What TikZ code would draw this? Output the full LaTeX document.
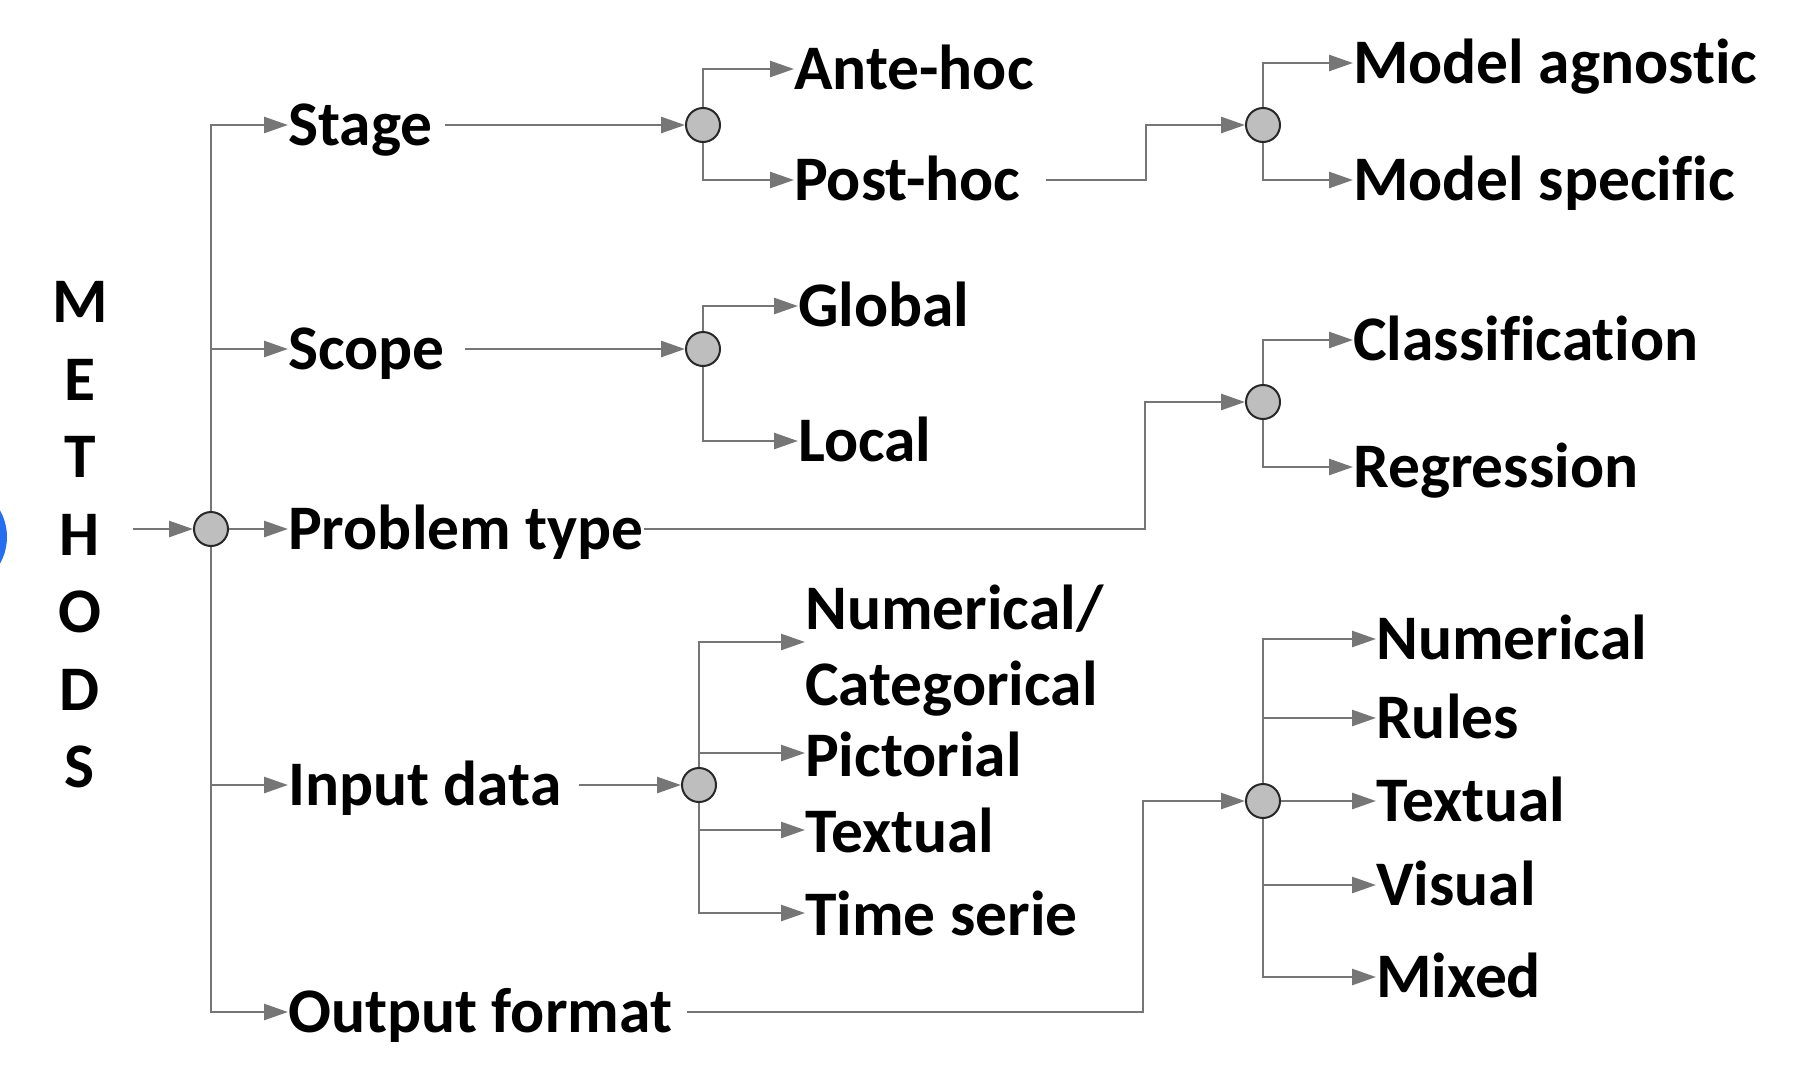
\documentclass[tikz,border=0pt]{standalone}
\usepackage{fontspec}
\setmainfont{Carlito}[Ligatures={CommonOff,ContextualOff}]
\usetikzlibrary{arrows.meta}
\definecolor{lncol}{RGB}{118,118,118}
\definecolor{dotfill}{RGB}{190,190,190}
\definecolor{dotline}{RGB}{40,40,40}
\definecolor{blob}{RGB}{37,110,240}
\begin{document}
\begin{tikzpicture}[x=1pt,y=-1pt,
  lbl/.style={font=\fontsize{63.5}{76}\selectfont\bfseries, inner sep=0pt, text height=40pt, text depth=0pt, anchor=west},
  mlbl/.style={font=\fontsize{63.5}{76}\selectfont\bfseries, inner sep=0pt, align=left, anchor=west},
  vlbl/.style={font=\fontsize{63.5}{77.5}\selectfont\bfseries, inner sep=0pt, align=center},
  dot/.style={circle, draw=dotline, fill=dotfill, line width=2pt, minimum size=34pt, inner sep=0pt},
  arr/.style={draw=lncol, line width=2.6pt, -{Triangle[length=24pt,width=16pt]}}]
\useasboundingbox (0,0) rectangle (1798,1074);
\begin{scope}
  \clip (0,0) rectangle (60,1074);
  \fill[blob] (-47,537) circle (54);
\end{scope}
% root
\node[vlbl] (methods) at (80,535) {M\\E\\T\\H\\O\\D\\S};
\coordinate (min) at (133,529);
\node[dot] (c0) at (211,529) {};
\node[lbl] (stage) at (288,125) {Stage};
\node[lbl] (scope) at (288,349) {Scope};
\node[lbl] (ptype) at (288,529) {Problem type};
\node[lbl] (input) at (288,785) {Input data};
\node[lbl] (output) at (288,1012) {Output format};
\draw[arr] (min) -- (c0.west);
\draw[arr] (c0.north) |- (stage.west);
\draw[arr] (c0.north) |- (scope.west);
\draw[arr] (c0.east) -- (ptype.west);
\draw[arr] (c0.south) |- (input.west);
\draw[arr] (c0.south) |- (output.west);
% stage
\node[dot] (c1) at (703,125) {};
\draw[arr] ([xshift=12pt]stage.east) -- (c1.west);
\node[lbl] (ante) at (794,69) {Ante-hoc};
\node[lbl] (post) at (794,180) {Post-hoc};
\draw[arr] (c1.north) |- (ante.west);
\draw[arr] (c1.south) |- (post.west);
\node[dot] (c2) at (1263,125) {};
\draw[arr] ([xshift=25pt]post.east) -| ([xshift=-99pt]c2.west) -- (c2.west);
\node[lbl] (agn) at (1353,63) {Model agnostic};
\node[lbl] (spec) at (1353,180) {Model specific};
\draw[arr] (c2.north) |- (agn.west);
\draw[arr] (c2.south) |- (spec.west);
% scope
\node[dot] (c3) at (703,349) {};
\draw[arr] ([xshift=20pt]scope.east) -- (c3.west);
\node[lbl] (glob) at (798,306) {Global};
\node[lbl] (loc) at (798,441) {Local};
\draw[arr] (c3.north) |- (glob.west);
\draw[arr] (c3.south) |- (loc.west);
% problem type
\node[dot] (c4) at (1263,402) {};
\draw[arr] (ptype.east) -| ([xshift=-100pt]c4.west) -- (c4.west);
\node[lbl] (cls) at (1353,340) {Classification};
\node[lbl] (reg) at (1353,467) {Regression};
\draw[arr] (c4.north) |- (cls.west);
\draw[arr] (c4.south) |- (reg.west);
% input data
\node[dot] (c5) at (699,785) {};
\draw[arr] ([xshift=17pt]input.east) -- (c5.west);
\node[mlbl] (numcat) at (805,651) {Numerical/\\Categorical};
\node[lbl] (pict) at (805,756) {Pictorial};
\node[lbl] (itext) at (805,832) {Textual};
\node[lbl] (tser) at (805,915) {Time serie};
\draw[arr] (c5.north) |- ([yshift=9pt]numcat.west);
\draw[arr] (c5.north) |- ([yshift=3pt]pict.west);
\draw[arr] (c5.south) |- ([yshift=2pt]itext.west);
\draw[arr] (c5.south) |- ([yshift=2pt]tser.west);
% output format
\node[dot] (c6) at (1263,801) {};
\draw[arr] ([xshift=15pt]output.east) -| ([xshift=-102pt]c6.west) -- (c6.west);
\node[lbl] (onum) at (1376,639) {Numerical};
\node[lbl] (rules) at (1376,718) {Rules};
\node[lbl] (otext) at (1376,801) {Textual};
\node[lbl] (vis) at (1376,885) {Visual};
\node[lbl] (mix) at (1376,977) {Mixed};
\draw[arr] (c6.north) |- (onum.west);
\draw[arr] (c6.north) |- (rules.west);
\draw[arr] (c6.east) -- (otext.west);
\draw[arr] (c6.south) |- (vis.west);
\draw[arr] (c6.south) |- (mix.west);
\end{tikzpicture}
\end{document}
